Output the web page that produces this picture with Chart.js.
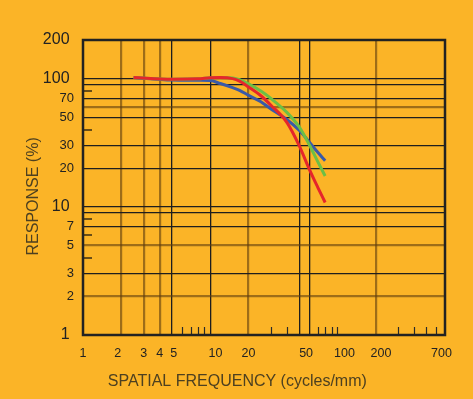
<!DOCTYPE html>
<html><head><meta charset="utf-8">
<script src="https://cdn.jsdelivr.net/npm/chart.js@4.4.1/dist/chart.umd.min.js"></script>
<style>html,body{margin:0;padding:0;background:#FBB427;}#wrap{width:473px;height:399px;position:relative;}</style>
</head><body><div id="wrap"><canvas id="c"></canvas></div>
<script>
// ---- data ----
const freq      = [2.5, 5, 8, 10, 12, 15, 17, 20, 25, 30, 40, 50, 60, 70, 80];
const redResp   = [102, 99, 99.5, 101.5, 102, 100, 95.5, 86, 73.5, 62, 45.5, 30, 19.7, 14.2, 10.8];
const greenResp = [102, 99, 99.5, 101.5, 102, 101, 98, 91, 80, 70, 54.5, 42, 30.5, 22.5, 17.4];
const blueResp  = [102, 97.5, 97, 96.5, 91.5, 85, 81, 74, 66, 58, 48, 39.5, 32, 26.6, 22.9];

const xLabelValues = [1, 2, 3, 4, 5, 10, 20, 50, 100, 200, 700];
const xLabelText   = ['1','2','3','4','5','10','20','50','100','200','700'];
const yLabelValues = [1, 2, 3, 5, 7, 10, 20, 30, 50, 70, 100, 200];
const yLabelText   = ['1','2','3','5','7','10','20','30','50','70','100','200'];

const xGridDark  = [5, 10, 50, 60];
const xGridLight = [2, 3, 4, 20, 200];
const xShortTicks = [6, 7, 8, 9, 30, 40, 70, 80, 90, 100, 300, 400, 500, 600];
const yGridDark  = [3, 7, 9, 10, 20, 30, 50, 70, 90, 100];
const yGridLight = [2, 5, 60];
const yShortTicks = [4, 6, 8, 40, 80];

const xTitle = 'SPATIAL FREQUENCY (cycles/mm)';
const yTitle = 'RESPONSE (%)';

// ---- styling helpers (positions / nudges kept separate) ----
const NB = '\u00a0';
const xNudge = {2: -2, 5: 1, 10: 3, 50: 4, 100: 4, 200: 3, 700: -2};
const yBig = [1, 10, 100, 200];
const BG = '#FBB427';
const DARK = '#1e1e1e';
const LIGHT = 'rgba(95,62,15,0.6)';
const TITLE_COLOR = '#4d4020';

function nudge(txt, n) {
  if (!n) return txt;
  return n > 0 ? NB.repeat(n) + txt : txt + NB.repeat(-n);
}
function uniqSorted(a) { return Array.from(new Set(a)).sort((p, q) => p - q); }
const xTicks = uniqSorted([...xLabelValues, ...xGridDark, ...xGridLight]);
const yTicks = uniqSorted([...yLabelValues, ...yGridDark, ...yGridLight]);

function gridColor(dark, light) {
  return (ctx) => {
    const v = ctx.tick ? ctx.tick.value : null;
    if (dark.includes(v)) return DARK;
    if (light.includes(v)) return LIGHT;
    return 'rgba(0,0,0,0)';
  };
}
function gridWidth(dark, light) {
  return (ctx) => {
    const v = ctx.tick ? ctx.tick.value : null;
    if (dark.includes(v)) return 1.3;
    if (light.includes(v)) return 2.2;
    return 0;
  };
}

const toPts = (ys) => freq.map((f, i) => ({x: f, y: ys[i]}));

const decor = {
  id: 'decor',
  beforeDraw(chart) {
    const c = chart.ctx;
    c.save();
    c.fillStyle = BG;
    c.fillRect(0, 0, chart.width, chart.height);
    c.restore();
  },
  afterDraw(chart) {
    const c = chart.ctx, a = chart.chartArea;
    const xs = chart.scales.x, ys = chart.scales.y;
    c.save();
    c.strokeStyle = '#2a2a2a';
    c.lineWidth = 1.2;
    xShortTicks.forEach(v => {
      const px = Math.round(xs.getPixelForValue(v)) + 0.5;
      c.beginPath(); c.moveTo(px, a.bottom); c.lineTo(px, a.bottom - 8); c.stroke();
    });
    c.strokeStyle = '#3a2c12';
    c.lineWidth = 1.5;
    yShortTicks.forEach(v => {
      const py = Math.round(ys.getPixelForValue(v));
      c.beginPath(); c.moveTo(a.left, py); c.lineTo(a.left + 9, py); c.stroke();
    });
    c.strokeStyle = '#222';
    c.lineWidth = 2.5;
    c.strokeRect(a.left, a.top, a.right - a.left, a.bottom - a.top);
    c.restore();
  }
};

new Chart(document.getElementById('c'), {
  type: 'line',
  data: {
    datasets: [
      {label: 'red', data: toPts(redResp), borderColor: '#E5262B', borderWidth: 3, pointRadius: 0, cubicInterpolationMode: 'monotone', fill: false},
      {label: 'green', data: toPts(greenResp), borderColor: '#6CBF45', borderWidth: 3, pointRadius: 0, cubicInterpolationMode: 'monotone', fill: false},
      {label: 'blue', data: toPts(blueResp), borderColor: '#3A5AA8', borderWidth: 3, pointRadius: 0, cubicInterpolationMode: 'monotone', fill: false}
    ]
  },
  options: {
    responsive: true,
    maintainAspectRatio: false,
    animation: false,
    devicePixelRatio: 1,
    layout: {padding: {top: 40, right: 28, left: 0, bottom: 0}},
    plugins: {legend: {display: false}, tooltip: {enabled: false}},
    scales: {
      x: {
        type: 'logarithmic',
        min: 1, max: 700,
        afterBuildTicks: (s) => { s.ticks = xTicks.map(v => ({value: v})); },
        afterFit: (s) => { s.height = 64; },
        border: {display: false},
        grid: {drawTicks: false, color: gridColor(xGridDark, xGridLight), lineWidth: gridWidth(xGridDark, xGridLight)},
        ticks: {
          autoSkip: false, maxRotation: 0, minRotation: 0, padding: 11,
          color: '#222',
          font: {family: '"Liberation Sans", Arial, sans-serif', size: 12.5},
          callback: (v) => {
            const i = xLabelValues.indexOf(v);
            return i < 0 ? '' : nudge(xLabelText[i], xNudge[v]);
          }
        },
        title: {
          display: true,
          text: xTitle + NB.repeat(12),
          color: TITLE_COLOR,
          font: {family: '"Liberation Sans", Arial, sans-serif', size: 16},
          padding: {top: 0, bottom: 8}
        }
      },
      y: {
        type: 'logarithmic',
        min: 1, max: 200,
        afterBuildTicks: (s) => { s.ticks = yTicks.map(v => ({value: v})); },
        afterFit: (s) => { s.width = 83; },
        border: {display: false},
        grid: {drawTicks: false, color: gridColor(yGridDark, yGridLight), lineWidth: gridWidth(yGridDark, yGridLight)},
        ticks: {
          autoSkip: false, padding: 9,
          color: '#222',
          font: (ctx) => ({family: '"Liberation Sans", Arial, sans-serif', size: (ctx.tick && yBig.includes(ctx.tick.value)) ? 16 : 13}),
          callback: (v) => {
            const i = yLabelValues.indexOf(v);
            if (i < 0) return '';
            return yBig.includes(v) ? yLabelText[i] + NB : yLabelText[i];
          }
        },
        title: {
          display: true,
          text: yTitle + NB.repeat(4),
          color: TITLE_COLOR,
          font: {family: '"Liberation Sans", Arial, sans-serif', size: 16},
          padding: {top: 24, bottom: 0}
        }
      }
    }
  },
  plugins: [decor]
});
</script>
</body></html>
